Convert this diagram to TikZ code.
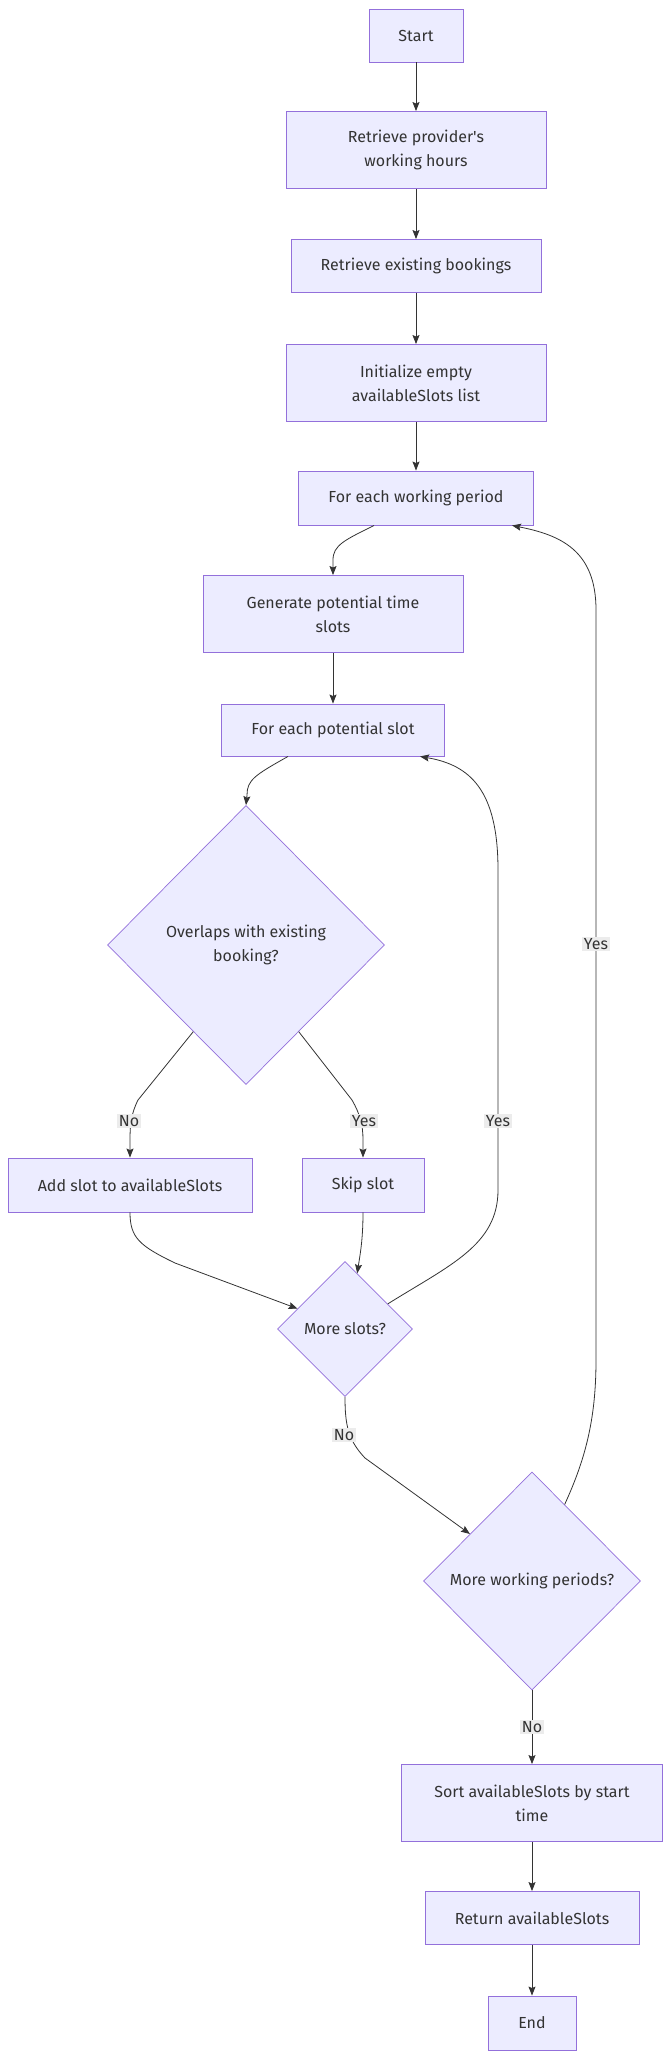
\documentclass[tikz,border=0pt]{standalone}
\usepackage{fontspec}
\setmainfont{Fira Sans}
\usetikzlibrary{shapes.geometric,arrows.meta,calc}
\definecolor{nodefill}{HTML}{ECECFF}
\definecolor{nodeline}{HTML}{9370DB}
\definecolor{txt}{HTML}{333333}
\definecolor{lblgray}{HTML}{ECECEC}
\tikzset{
  box/.style={draw=nodeline, fill=nodefill, line width=0.9pt, text=txt, align=center, inner sep=0pt, font=\fontsize{16}{24}\selectfont},
  dia/.style={diamond, draw=nodeline, fill=nodefill, line width=0.7pt, text=txt, align=center, inner sep=0pt, font=\fontsize{16}{24}\selectfont},
  arr/.style={draw=txt, line width=0.8pt, -{Stealth[length=9pt,width=7pt,inset=1.5pt]}},
  lbl/.style={fill=lblgray, text=txt, inner sep=1.5pt, font=\fontsize{16}{20}\selectfont}
}
\begin{document}
\begin{tikzpicture}[x=1pt,y=-1pt]
\useasboundingbox (0,0) rectangle (671,2060);
% nodes
\node[box, minimum width=94pt, minimum height=53pt] (start) at (416,35.5) {Start};
\node[box, minimum width=260pt, minimum height=77pt] (prov) at (416,150) {Retrieve provider\textquotesingle s\\working hours};
\node[box, minimum width=250pt, minimum height=53pt] (exist) at (416,266) {Retrieve existing bookings};
\node[box, minimum width=260pt, minimum height=77pt] (init) at (416,383) {Initialize empty\\availableSlots list};
\node[box, minimum width=235pt, minimum height=54pt] (wp) at (416,498) {For each working period};
\node[box, minimum width=260pt, minimum height=77pt] (gen) at (333,614) {Generate potential time\\slots};
\node[box, minimum width=223pt, minimum height=52pt] (ps) at (333,730) {For each potential slot};
\node[dia, minimum width=277pt, minimum height=279pt] (ov) at (246,945) {Overlaps with existing\\booking?};
\node[box, minimum width=244pt, minimum height=54pt] (add) at (130,1185) {Add slot to availableSlots};
\node[box, minimum width=122pt, minimum height=54pt] (skip) at (363,1185) {Skip slot};
\node[dia, minimum width=135pt, minimum height=135pt] (ms) at (345,1329) {More slots?};
\node[dia, minimum width=217pt, minimum height=218pt] (mwp) at (532,1581) {More working periods?};
\node[box, minimum width=261pt, minimum height=77pt] (sort) at (532,1803) {Sort availableSlots by start\\time};
\node[box, minimum width=214pt, minimum height=53pt] (ret) at (532,1918) {Return availableSlots};
\node[box, minimum width=88pt, minimum height=54pt] (end) at (532,2023) {End};
% straight edges
\draw[arr] (start) -- (prov);
\draw[arr] (prov) -- (exist);
\draw[arr] (exist) -- (init);
\draw[arr] (init) -- (wp);
\draw[arr] (gen) -- (ps);
\draw[arr] (sort) -- (ret);
\draw[arr] (ret) -- (end);
% curved edges
\draw[arr] ([xshift=-42pt]wp.south) .. controls (345,540) and (333,545) .. (333,560) -- (gen.north);
\draw[arr] ([xshift=-45pt]ps.south) .. controls (255,775) and (247,780) .. (247,795) -- (ov.north);
\draw[arr] ($(ov.west)!0.62!(ov.south)$) -- (138,1100) .. controls (131,1114) and (130,1125) .. (130,1140) -- (add.north);
\node[lbl] (lno1) at (129,1121) {No};
\draw[arr] ($(ov.east)!0.62!(ov.south)$) -- (352,1100) .. controls (360,1114) and (363,1125) .. (363,1140) -- (skip.north);
\node[lbl] (lyes1) at (364,1121) {Yes};
\draw[arr] (add.south) .. controls (130,1238) and (140,1246) .. (175,1263) -- ($(ms.west)!0.3!(ms.north)$);
\draw[arr] (skip.south) .. controls (363,1240) and (360,1255) .. ($(ms.north)!0.18!(ms.east)$);
\draw[arr] ($(ms.north)!0.63!(ms.east)$) .. controls (450,1265) and (498,1245) .. (498,1190) -- (498,870) .. controls (498,790) and (470,765) .. ([xshift=87pt]ps.south);
\node[lbl] (lyes2) at (498,1121) {Yes};
\draw[arr] (ms.south) .. controls (345,1425) and (348,1440) .. (365,1458) -- ($(mwp.west)!0.43!(mwp.north)$);
\node[lbl] (lno2) at (344,1435) {No};
\draw[arr] ($(mwp.north)!0.3!(mwp.east)$) .. controls (585,1460) and (596,1420) .. (596,1360) -- (596,610) .. controls (596,550) and (560,535) .. ([xshift=96pt]wp.south);
\node[lbl] (lyes3) at (596,944) {Yes};
\draw[arr] (mwp.south) -- (sort.north);
\node[lbl] (lno3) at (532,1727) {No};
\end{tikzpicture}
\end{document}
